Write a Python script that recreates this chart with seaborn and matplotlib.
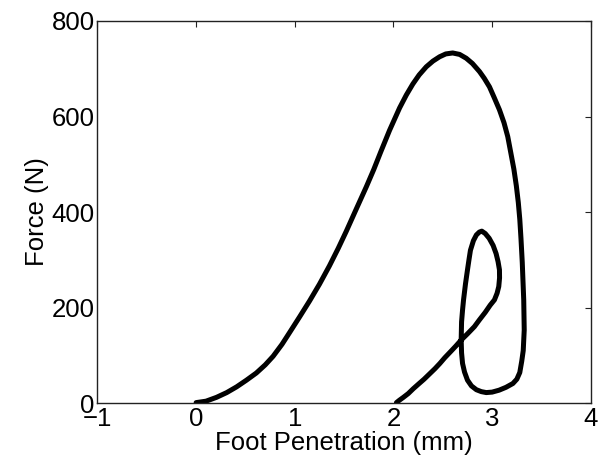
import matplotlib
matplotlib.use("Agg")
import matplotlib.pyplot as plt
import seaborn as sns
import pandas as pd

# Foot penetration (mm) and force (N), in drawing order along the loop
penetration = [0.00, 0.10, 0.206, 0.31, 0.41, 0.51, 0.61, 0.70, 0.78, 0.87, 0.948,
               1.05, 1.15, 1.25, 1.35, 1.44, 1.52, 1.62, 1.725, 1.80, 1.871, 1.96,
               2.062, 2.13, 2.196, 2.26, 2.332, 2.40, 2.467, 2.53, 2.60, 2.67, 2.737,
               2.80, 2.872, 2.92, 2.973, 3.02, 3.074, 3.12, 3.158, 3.19, 3.22, 3.245,
               3.265, 3.28, 3.292, 3.305, 3.32, 3.325, 3.315, 3.30, 3.28, 3.25, 3.21, 3.14,
               3.07, 3.00, 2.94, 2.89, 2.84, 2.79, 2.75, 2.72, 2.70, 2.69, 2.686,
               2.69, 2.70, 2.71, 2.73, 2.75, 2.765, 2.78, 2.81, 2.84, 2.87, 2.895,
               2.93, 2.97, 3.01, 3.04, 3.06, 3.074, 3.075, 3.067, 3.05, 3.023, 2.98,
               2.93, 2.87, 2.82, 2.75, 2.686, 2.63, 2.58, 2.52, 2.47, 2.42, 2.36,
               2.31, 2.26, 2.20, 2.15, 2.10, 2.06, 2.03]
force = [1, 4, 12, 22, 34, 48, 63, 80, 98, 123, 148,
         181, 214, 249, 287, 324, 359, 405, 453, 489, 526, 571,
         618, 645, 668, 687, 704, 716, 725, 731, 733, 730, 722,
         711, 694, 680, 662, 640, 614, 587, 558, 523, 490, 455,
         420, 385, 345, 295, 216, 153, 110, 88, 64, 50, 41, 33,
         27, 23, 22, 24, 28, 36, 48, 65, 83, 105, 132,
         170, 195, 216, 250, 279, 300, 320, 340, 352, 358, 360,
         355, 345, 330, 313, 296, 279, 262, 244, 230, 216, 205,
         190, 174, 160, 145, 132, 119, 108, 95, 83, 72, 60,
         50, 41, 30, 20, 12, 6, 1]

x_ticks = [-1, 0, 1, 2, 3, 4]
y_ticks = [0, 200, 400, 600, 800]

sns.set_style("white")
plt.rcParams['font.family'] = ['Liberation Sans', 'DejaVu Sans']

df = pd.DataFrame({"pen": penetration, "force": force})

fig = plt.figure(figsize=(5.98, 4.66), dpi=100)
ax = fig.add_axes([0.163, 0.135, 0.825, 0.82])
sns.lineplot(data=df, x="pen", y="force", sort=False, estimator=None,
             color="black", linewidth=3.6, ax=ax)
ax.lines[0].set_solid_joinstyle("round")
ax.lines[0].set_solid_capstyle("round")

ax.set_xlim(-1, 4)
ax.set_ylim(0, 800)
ax.set_xticks(x_ticks)
ax.set_yticks(y_ticks)
ax.set_xlabel("Foot Penetration (mm)", fontsize=18.5, labelpad=0, color="black")
ax.set_ylabel("Force (N)", fontsize=18.5, labelpad=2, color="black")
ax.tick_params(direction="in", length=4, width=0.8, top=True, right=True,
               labelsize=18.5, colors="#222222", labelcolor="black", pad=2)
ax.tick_params(axis="x", pad=3)
for s in ax.spines.values():
    s.set_color("#222222")
    s.set_linewidth(1.0)
    s.set_visible(True)

fig.savefig("out.png", dpi=100)
